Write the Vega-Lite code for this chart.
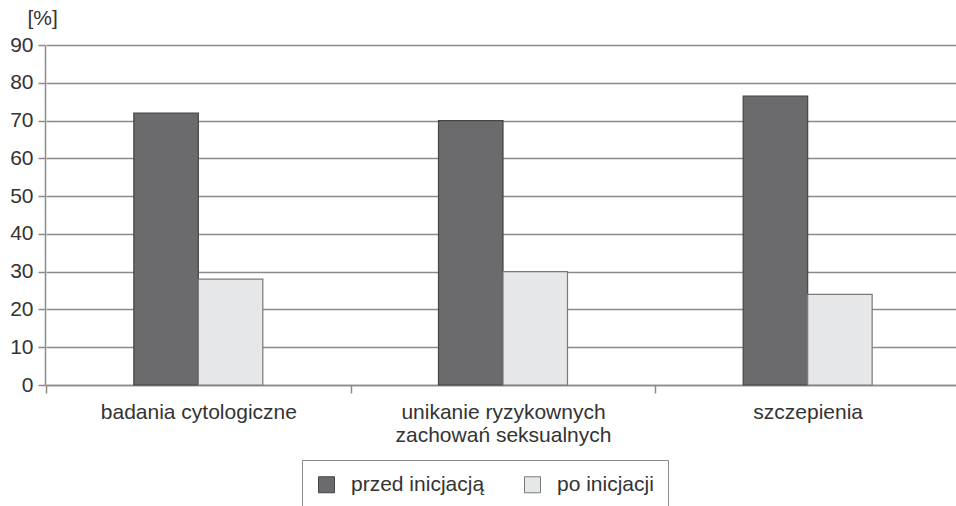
{
  "$schema": "https://vega.github.io/schema/vega-lite/v6.json",
  "width": 910,
  "height": 340,
  "autosize": "none",
  "padding": {"left": 45, "top": 45, "right": 1, "bottom": 121},
  "background": "white",
  "config": {
    "font": "Liberation Sans",
    "view": {"stroke": null},
    "axis": {"labelFont": "Liberation Sans", "labelFontSize": 21, "labelColor": "#333333", "domainColor": "#8a8a8a", "tickColor": "#8a8a8a", "gridColor": "#8a8a8a", "domainWidth": 1.5, "tickWidth": 1.5, "gridWidth": 1.5, "labelLimit": 0}
  },
  "data": {
    "values": [
      {"kategoria": "badania cytologiczne", "seria": "przed inicjacją", "wartosc": 72},
      {"kategoria": "badania cytologiczne", "seria": "po inicjacji", "wartosc": 28},
      {"kategoria": "unikanie ryzykownych zachowań seksualnych", "seria": "przed inicjacją", "wartosc": 70},
      {"kategoria": "unikanie ryzykownych zachowań seksualnych", "seria": "po inicjacji", "wartosc": 30},
      {"kategoria": "szczepienia", "seria": "przed inicjacją", "wartosc": 76.5},
      {"kategoria": "szczepienia", "seria": "po inicjacji", "wartosc": 24}
    ]
  },
  "mark": {"type": "bar", "strokeWidth": 1.2},
  "encoding": {
    "x": {
      "field": "kategoria",
      "type": "nominal",
      "sort": null,
      "scale": {"paddingInner": 0.5766, "paddingOuter": 0.2883, "range": [1, 915]},
      "axis": {
        "title": null,
        "labelAngle": 0,
        "tickOffset": -152.33,
        "labelOffset": 152.33,
        "tickSize": 8,
        "labelPadding": 8,
        "labelLineHeight": 23,
        "labelBaseline": "top",
        "labelExpr": "datum.label == 'unikanie ryzykownych zachowań seksualnych' ? ['unikanie ryzykownych', 'zachowań seksualnych'] : datum.label"
      }
    },
    "xOffset": {
      "field": "seria",
      "type": "nominal",
      "sort": ["przed inicjacją", "po inicjacji"],
      "scale": {"paddingInner": 0, "paddingOuter": 0}
    },
    "y": {
      "field": "wartosc",
      "type": "quantitative",
      "scale": {"domain": [0, 90]},
      "axis": {
        "values": [0, 10, 20, 30, 40, 50, 60, 70, 80, 90],
        "tickSize": 7,
        "labelPadding": 5,
        "title": "[%]",
        "titleAngle": 0,
        "titleAlign": "left",
        "titleBaseline": "top",
        "titleX": -18,
        "titleY": -38,
        "titleFont": "Liberation Sans",
        "titleFontSize": 21,
        "titleFontWeight": "normal",
        "titleColor": "#333333"
      }
    },
    "color": {
      "field": "seria",
      "type": "nominal",
      "sort": ["przed inicjacją", "po inicjacji"],
      "scale": {"domain": ["przed inicjacją", "po inicjacji"], "range": ["#6b6b6d", "#e6e7e9"]},
      "legend": {
        "title": null,
        "orient": "none",
        "legendX": 257,
        "legendY": 415,
        "direction": "horizontal",
        "symbolType": "square",
        "symbolSize": 256,
        "symbolStrokeWidth": 1,
        "labelFont": "Liberation Sans",
        "labelFontSize": 21,
        "labelColor": "#333333",
        "labelOffset": 14,
        "labelLimit": 0,
        "columnPadding": 37,
        "strokeColor": "#8a8a8a",
        "padding": 14,
        "fillColor": "white"
      }
    },
    "stroke": {
      "field": "seria",
      "type": "nominal",
      "sort": ["przed inicjacją", "po inicjacji"],
      "scale": {"domain": ["przed inicjacją", "po inicjacji"], "range": ["#454545", "#7a7a7a"]},
      "legend": {
        "title": null,
        "orient": "none",
        "legendX": 257,
        "legendY": 415,
        "direction": "horizontal",
        "symbolType": "square",
        "symbolSize": 256,
        "symbolStrokeWidth": 1,
        "labelFont": "Liberation Sans",
        "labelFontSize": 21,
        "labelColor": "#333333",
        "labelOffset": 14,
        "labelLimit": 0,
        "columnPadding": 37,
        "strokeColor": "#8a8a8a",
        "padding": 14,
        "fillColor": "white"
      }
    }
  }
}
